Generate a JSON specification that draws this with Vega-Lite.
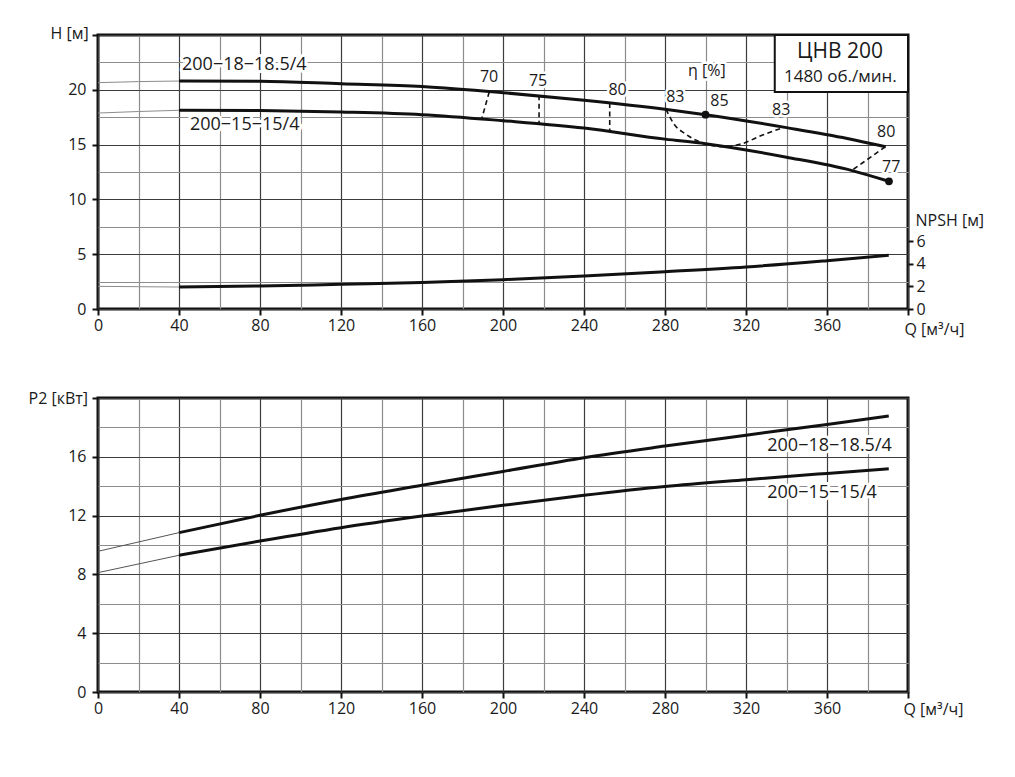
{
  "$schema": "https://vega.github.io/schema/vega-lite/v6.json",
  "description": "ЦНВ 200, 1480 об./мин.: напор, NPSH и мощность P2 в зависимости от подачи Q",
  "padding": {"left": 26, "top": 23, "right": 5, "bottom": 5},
  "config": {
    "font": "Open Sans",
    "view": {"stroke": "#111", "strokeWidth": 3},
    "axis": {
      "domain": false,
      "tickColor": "#111",
      "tickWidth": 2,
      "tickSize": 6,
      "labelFontSize": 16,
      "labelColor": "#1a1a1a",
      "labelPadding": 2,
      "labelOverlap": false,
      "labelBound": false,
      "labelFlush": false,
      "titleFontSize": 16,
      "titleFontWeight": "normal",
      "titleColor": "#1a1a1a",
      "titleAngle": 0,
      "titleAlign": "left",
      "titleBaseline": "middle",
      "gridWidth": 1.2
    },
    "axisY": {"labelPadding": 6}
  },
  "datasets": {
    "head": [
      {"pump": "200-18-18.5/4", "part": "ext", "Q": 0, "H": 20.65},
      {"pump": "200-18-18.5/4", "part": "ext", "Q": 20, "H": 20.75},
      {"pump": "200-18-18.5/4", "part": "ext", "Q": 40, "H": 20.8},
      {"pump": "200-18-18.5/4", "part": "work", "Q": 40, "H": 20.8},
      {"pump": "200-18-18.5/4", "part": "work", "Q": 80, "H": 20.78},
      {"pump": "200-18-18.5/4", "part": "work", "Q": 120, "H": 20.55},
      {"pump": "200-18-18.5/4", "part": "work", "Q": 160, "H": 20.3},
      {"pump": "200-18-18.5/4", "part": "work", "Q": 200, "H": 19.74},
      {"pump": "200-18-18.5/4", "part": "work", "Q": 240, "H": 19.04},
      {"pump": "200-18-18.5/4", "part": "work", "Q": 280, "H": 18.22},
      {"pump": "200-18-18.5/4", "part": "work", "Q": 300, "H": 17.73},
      {"pump": "200-18-18.5/4", "part": "work", "Q": 340, "H": 16.55},
      {"pump": "200-18-18.5/4", "part": "work", "Q": 370, "H": 15.56},
      {"pump": "200-18-18.5/4", "part": "work", "Q": 389, "H": 14.8},
      {"pump": "200-15-15/4", "part": "ext", "Q": 0, "H": 17.88},
      {"pump": "200-15-15/4", "part": "ext", "Q": 20, "H": 18.02},
      {"pump": "200-15-15/4", "part": "ext", "Q": 40, "H": 18.13},
      {"pump": "200-15-15/4", "part": "work", "Q": 40, "H": 18.13},
      {"pump": "200-15-15/4", "part": "work", "Q": 80, "H": 18.1},
      {"pump": "200-15-15/4", "part": "work", "Q": 120, "H": 17.97},
      {"pump": "200-15-15/4", "part": "work", "Q": 160, "H": 17.73},
      {"pump": "200-15-15/4", "part": "work", "Q": 200, "H": 17.18},
      {"pump": "200-15-15/4", "part": "work", "Q": 240, "H": 16.51},
      {"pump": "200-15-15/4", "part": "work", "Q": 280, "H": 15.5},
      {"pump": "200-15-15/4", "part": "work", "Q": 300, "H": 15.08},
      {"pump": "200-15-15/4", "part": "work", "Q": 340, "H": 13.85},
      {"pump": "200-15-15/4", "part": "work", "Q": 372, "H": 12.65},
      {"pump": "200-15-15/4", "part": "work", "Q": 390.5, "H": 11.65}
    ],
    "npsh": [
      {"part": "ext", "Q": 0, "NPSH": 2.0},
      {"part": "ext", "Q": 20, "NPSH": 1.97},
      {"part": "ext", "Q": 40, "NPSH": 1.94},
      {"part": "work", "Q": 40, "NPSH": 1.94},
      {"part": "work", "Q": 80, "NPSH": 2.03},
      {"part": "work", "Q": 120, "NPSH": 2.18},
      {"part": "work", "Q": 160, "NPSH": 2.33},
      {"part": "work", "Q": 200, "NPSH": 2.59},
      {"part": "work", "Q": 240, "NPSH": 2.91},
      {"part": "work", "Q": 280, "NPSH": 3.29},
      {"part": "work", "Q": 320, "NPSH": 3.71},
      {"part": "work", "Q": 360, "NPSH": 4.27},
      {"part": "work", "Q": 390.5, "NPSH": 4.74}
    ],
    "eta": [
      {"line": "70", "i": 0, "Q": 193.2, "H": 19.8},
      {"line": "70", "i": 1, "Q": 189.6, "H": 17.43},
      {"line": "75", "i": 0, "Q": 217.8, "H": 19.5},
      {"line": "75", "i": 1, "Q": 217.8, "H": 16.97},
      {"line": "80", "i": 0, "Q": 252.7, "H": 18.8},
      {"line": "80", "i": 1, "Q": 252.7, "H": 16.3},
      {"line": "83", "i": 0, "Q": 280.5, "H": 18.22},
      {"line": "83", "i": 1, "Q": 284.3, "H": 16.91},
      {"line": "83", "i": 2, "Q": 289.9, "H": 16.0},
      {"line": "83", "i": 3, "Q": 298.3, "H": 15.17},
      {"line": "83", "i": 4, "Q": 309.6, "H": 14.8},
      {"line": "83", "i": 5, "Q": 318, "H": 15.08},
      {"line": "83", "i": 6, "Q": 327.9, "H": 15.85},
      {"line": "83", "i": 7, "Q": 339.1, "H": 16.6},
      {"line": "80r", "i": 0, "Q": 388.8, "H": 14.8},
      {"line": "80r", "i": 1, "Q": 372.3, "H": 12.65}
    ],
    "dots": [
      {"Q": 300, "H": 17.73},
      {"Q": 390.6, "H": 11.65}
    ],
    "box": [
      {"Q": 334.2, "Q2": 400, "H": 19.8, "H2": 25}
    ],
    "labelsTop": [
      {"kind": "curve", "text": "200−18−18.5/4", "Q": 41.5, "H": 22.26},
      {"kind": "curve", "text": "200−15−15/4", "Q": 45.4, "H": 16.83},
      {"kind": "eta", "text": "70", "Q": 193.1, "H": 21.17},
      {"kind": "eta", "text": "75", "Q": 217.3, "H": 20.78},
      {"kind": "eta", "text": "80", "Q": 256.6, "H": 19.95},
      {"kind": "eta", "text": "83", "Q": 285.1, "H": 19.34},
      {"kind": "eta", "text": "85", "Q": 306.9, "H": 18.96},
      {"kind": "eta", "text": "83", "Q": 337.4, "H": 18.17},
      {"kind": "eta", "text": "80", "Q": 389.2, "H": 16.15},
      {"kind": "eta", "text": "77", "Q": 391.7, "H": 12.97},
      {"kind": "eta", "text": "η [%]", "Q": 300.7, "H": 21.7},
      {"kind": "title", "text": "ЦНВ 200", "Q": 366.4, "H": 23.45},
      {"kind": "sub", "text": "1480 об./мин.", "Q": 366.6, "H": 21.2}
    ],
    "power": [
      {"pump": "200-18-18.5/4", "part": "ext", "Q": 0, "P": 9.57},
      {"pump": "200-18-18.5/4", "part": "ext", "Q": 40, "P": 10.84},
      {"pump": "200-18-18.5/4", "part": "work", "Q": 40, "P": 10.84},
      {"pump": "200-18-18.5/4", "part": "work", "Q": 80, "P": 12.02},
      {"pump": "200-18-18.5/4", "part": "work", "Q": 120, "P": 13.1},
      {"pump": "200-18-18.5/4", "part": "work", "Q": 160, "P": 14.06},
      {"pump": "200-18-18.5/4", "part": "work", "Q": 200, "P": 15.0},
      {"pump": "200-18-18.5/4", "part": "work", "Q": 240, "P": 15.94},
      {"pump": "200-18-18.5/4", "part": "work", "Q": 280, "P": 16.73},
      {"pump": "200-18-18.5/4", "part": "work", "Q": 320, "P": 17.47},
      {"pump": "200-18-18.5/4", "part": "work", "Q": 360, "P": 18.2},
      {"pump": "200-18-18.5/4", "part": "work", "Q": 390.5, "P": 18.78},
      {"pump": "200-15-15/4", "part": "ext", "Q": 0, "P": 8.12},
      {"pump": "200-15-15/4", "part": "ext", "Q": 40, "P": 9.3},
      {"pump": "200-15-15/4", "part": "work", "Q": 40, "P": 9.3},
      {"pump": "200-15-15/4", "part": "work", "Q": 80, "P": 10.27},
      {"pump": "200-15-15/4", "part": "work", "Q": 120, "P": 11.18},
      {"pump": "200-15-15/4", "part": "work", "Q": 160, "P": 11.97},
      {"pump": "200-15-15/4", "part": "work", "Q": 200, "P": 12.7},
      {"pump": "200-15-15/4", "part": "work", "Q": 240, "P": 13.38},
      {"pump": "200-15-15/4", "part": "work", "Q": 280, "P": 13.98},
      {"pump": "200-15-15/4", "part": "work", "Q": 320, "P": 14.44},
      {"pump": "200-15-15/4", "part": "work", "Q": 360, "P": 14.87},
      {"pump": "200-15-15/4", "part": "work", "Q": 390.5, "P": 15.19}
    ],
    "labelsBottom": [
      {"text": "200−18−18.5/4", "Q": 330.5, "P": 16.73},
      {"text": "200−15−15/4", "Q": 330.5, "P": 13.54}
    ]
  },
  "spacing": 89,
  "bounds": "flush",
  "vconcat": [
    {
      "width": 810,
      "height": 274,
      "encoding": {
        "x": {
          "field": "Q", "type": "quantitative",
          "scale": {"domain": [0, 400], "nice": false, "zero": false},
          "axis": {
            "values": [0, 20, 40, 60, 80, 100, 120, 140, 160, 180, 200, 220, 240, 260, 280, 300, 320, 340, 360, 380, 400],
            "grid": true,
            "gridColor": {"condition": {"test": "datum.value % 40 === 0", "value": "#3c3c3c"}, "value": "#8c8c8c"},
            "tickOpacity": {"condition": {"test": "datum.value % 40 === 0", "value": 1}, "value": 0},
            "labelExpr": "datum.value % 40 === 0 && datum.value < 400 ? datum.label : ''",
            "title": "Q [м³/ч]",
            "titleX": 806,
            "titleY": 20
          }
        }
      },
      "layer": [
        {
          "encoding": {
            "y": {
              "field": "H", "type": "quantitative",
              "scale": {"domain": [0, 25], "nice": false, "zero": false},
              "axis": {
                "values": [0, 2.5, 5, 7.5, 10, 12.5, 15, 17.5, 20, 22.5, 25],
                "grid": true,
                "gridColor": {"condition": {"test": "datum.value % 5 === 0", "value": "#3c3c3c"}, "value": "#8c8c8c"},
                "tickOpacity": {"condition": {"test": "datum.value % 5 === 0", "value": 1}, "value": 0},
                "labelExpr": "datum.value % 5 === 0 && datum.value < 25 ? datum.label : ''",
                "title": "H [м]",
                "titleX": -48,
                "titleY": -2
              }
            }
          },
          "layer": [
            {
              "data": {"name": "labelsTop"},
              "transform": [{"filter": "datum.kind === 'curve'"}],
              "mark": {"type": "text", "align": "left", "baseline": "middle", "fontSize": 18, "fill": "white", "stroke": "white", "strokeWidth": 6, "strokeJoin": "round"},
              "encoding": {"text": {"field": "text"}}
            },
            {
              "data": {"name": "labelsTop"},
              "transform": [{"filter": "datum.kind === 'eta'"}],
              "mark": {"type": "text", "align": "center", "baseline": "middle", "fontSize": 16, "fill": "white", "stroke": "white", "strokeWidth": 5, "strokeJoin": "round"},
              "encoding": {"text": {"field": "text"}}
            },
            {
              "data": {"name": "head"},
              "transform": [{"filter": "datum.part === 'ext'"}],
              "mark": {"type": "line", "stroke": "#8c8c8c", "strokeWidth": 1, "interpolate": "monotone"},
              "encoding": {"detail": {"field": "pump"}}
            },
            {
              "data": {"name": "head"},
              "transform": [{"filter": "datum.part === 'work'"}],
              "mark": {"type": "line", "stroke": "#111", "strokeWidth": 3, "interpolate": "monotone"},
              "encoding": {"detail": {"field": "pump"}}
            },
            {
              "data": {"name": "eta"},
              "mark": {"type": "line", "stroke": "#111", "strokeWidth": 1.6, "strokeDash": [5, 3.5], "interpolate": "monotone"},
              "encoding": {"detail": {"field": "line"}, "order": {"field": "i", "type": "quantitative"}}
            },
            {
              "data": {"name": "dots"},
              "mark": {"type": "point", "filled": true, "color": "#111", "size": 60, "opacity": 1}
            },
            {
              "data": {"name": "box"},
              "mark": {"type": "rect", "fill": "white", "stroke": "#111", "strokeWidth": 2},
              "encoding": {"x2": {"field": "Q2"}, "y2": {"field": "H2"}}
            },
            {
              "data": {"name": "labelsTop"},
              "transform": [{"filter": "datum.kind === 'curve'"}],
              "mark": {"type": "text", "align": "left", "baseline": "middle", "fontSize": 18, "fill": "#1a1a1a"},
              "encoding": {"text": {"field": "text"}}
            },
            {
              "data": {"name": "labelsTop"},
              "transform": [{"filter": "datum.kind === 'eta'"}],
              "mark": {"type": "text", "align": "center", "baseline": "middle", "fontSize": 16, "fill": "#1a1a1a"},
              "encoding": {"text": {"field": "text"}}
            },
            {
              "data": {"name": "labelsTop"},
              "transform": [{"filter": "datum.kind === 'title'"}],
              "mark": {"type": "text", "align": "center", "baseline": "middle", "fontSize": 21, "fill": "#1a1a1a"},
              "encoding": {"text": {"field": "text"}}
            },
            {
              "data": {"name": "labelsTop"},
              "transform": [{"filter": "datum.kind === 'sub'"}],
              "mark": {"type": "text", "align": "center", "baseline": "middle", "fontSize": 17, "fill": "#1a1a1a"},
              "encoding": {"text": {"field": "text"}}
            }
          ]
        },
        {
          "data": {"name": "npsh"},
          "encoding": {
            "y": {
              "field": "NPSH", "type": "quantitative",
              "scale": {"domain": [0, 24.2], "nice": false, "zero": false},
              "axis": {
                "orient": "right",
                "values": [0, 2, 4, 6],
                "grid": false,
                "tickSize": 5,
                "labelPadding": 3,
                "title": "NPSH [м]",
                "titleX": 7,
                "titleY": 185
              }
            }
          },
          "layer": [
            {
              "transform": [{"filter": "datum.part === 'ext'"}],
              "mark": {"type": "line", "stroke": "#8c8c8c", "strokeWidth": 1, "interpolate": "monotone"}
            },
            {
              "transform": [{"filter": "datum.part === 'work'"}],
              "mark": {"type": "line", "stroke": "#111", "strokeWidth": 3, "interpolate": "monotone"}
            }
          ]
        }
      ],
      "resolve": {"scale": {"y": "independent"}}
    },
    {
      "width": 810,
      "height": 294,
      "encoding": {
        "x": {
          "field": "Q", "type": "quantitative",
          "scale": {"domain": [0, 400], "nice": false, "zero": false},
          "axis": {
            "values": [0, 20, 40, 60, 80, 100, 120, 140, 160, 180, 200, 220, 240, 260, 280, 300, 320, 340, 360, 380, 400],
            "grid": true,
            "gridColor": {"condition": {"test": "datum.value % 40 === 0", "value": "#3c3c3c"}, "value": "#8c8c8c"},
            "tickOpacity": {"condition": {"test": "datum.value % 40 === 0", "value": 1}, "value": 0},
            "labelExpr": "datum.value % 40 === 0 && datum.value < 400 ? datum.label : ''",
            "title": "Q [м³/ч]",
            "titleX": 805,
            "titleY": 17
          }
        },
        "y": {
          "field": "P", "type": "quantitative",
          "scale": {"domain": [0, 20], "nice": false, "zero": false},
          "axis": {
            "values": [0, 2, 4, 6, 8, 10, 12, 14, 16, 18, 20],
            "grid": true,
            "gridColor": {"condition": {"test": "datum.value % 4 === 0", "value": "#3c3c3c"}, "value": "#8c8c8c"},
            "tickOpacity": {"condition": {"test": "datum.value % 4 === 0", "value": 1}, "value": 0},
            "labelExpr": "datum.value % 4 === 0 && datum.value < 20 ? datum.label : ''",
            "title": "P2 [кВт]",
            "titleX": -70,
            "titleY": 0
          }
        }
      },
      "layer": [
        {
          "data": {"name": "labelsBottom"},
          "mark": {"type": "text", "align": "left", "baseline": "middle", "fontSize": 18, "fill": "white", "stroke": "white", "strokeWidth": 6, "strokeJoin": "round"},
          "encoding": {"text": {"field": "text"}}
        },
        {
          "data": {"name": "power"},
          "transform": [{"filter": "datum.part === 'ext'"}],
          "mark": {"type": "line", "stroke": "#555", "strokeWidth": 1, "interpolate": "monotone"},
          "encoding": {"detail": {"field": "pump"}}
        },
        {
          "data": {"name": "power"},
          "transform": [{"filter": "datum.part === 'work'"}],
          "mark": {"type": "line", "stroke": "#111", "strokeWidth": 3, "interpolate": "monotone"},
          "encoding": {"detail": {"field": "pump"}}
        },
        {
          "data": {"name": "labelsBottom"},
          "mark": {"type": "text", "align": "left", "baseline": "middle", "fontSize": 18, "fill": "#1a1a1a"},
          "encoding": {"text": {"field": "text"}}
        }
      ]
    }
  ]
}
